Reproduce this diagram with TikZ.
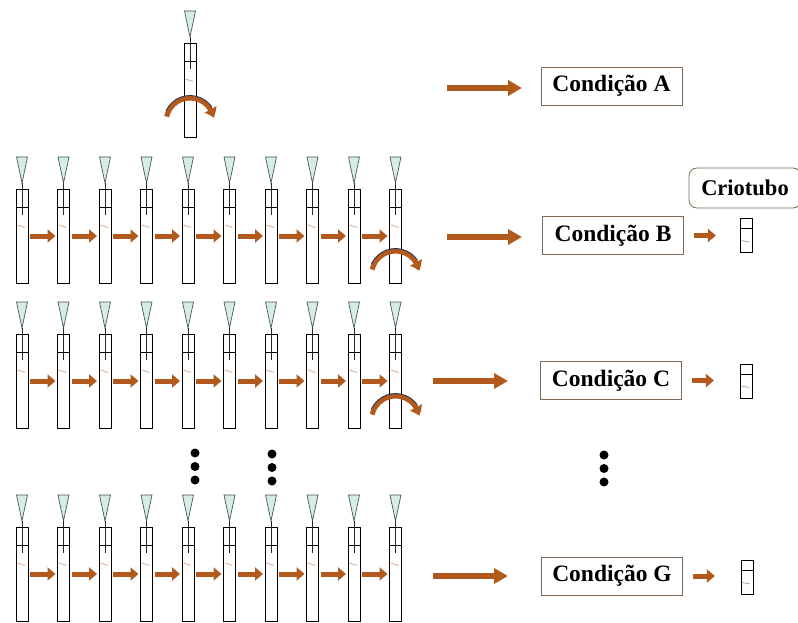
\documentclass[tikz,border=0pt]{standalone}
\usepackage{fontspec}
\setmainfont{Liberation Serif}
\usetikzlibrary{arrows.meta,calc,bending}

\definecolor{arrowbrown}{RGB}{178,90,30}
\definecolor{tipgreen}{RGB}{214,238,226}
\definecolor{tipedge}{RGB}{70,85,95}
\definecolor{liquid}{RGB}{222,175,145}
\definecolor{boxedge}{RGB}{125,105,85}
\definecolor{arcedge}{RGB}{35,45,75}

\tikzset{
  tube/.style={draw=black, line width=0.9pt, minimum width=12pt, minimum height=94pt,
    inner sep=0pt, outer sep=0pt, anchor=north west},
  cryo/.style={draw=black, line width=0.9pt, minimum width=12pt, minimum height=34pt,
    inner sep=0pt, outer sep=0pt},
  flowarrow/.style={draw=arrowbrown, line width=5pt, -{Triangle[width=13pt,length=8pt]}},
  bigarrow/.style={draw=arrowbrown, line width=6pt, -{Triangle[width=15pt,length=14pt]}},
  condbox/.style={draw=boxedge, line width=0.8pt, minimum width=141pt, minimum height=38pt,
    inner sep=0pt, font=\fontsize{23.5}{27}\selectfont\bfseries},
  labelbox/.style={condbox, rounded corners=8pt, minimum width=112pt, minimum height=40pt,
    font=\fontsize{22.5}{26}\selectfont\bfseries},
  turnarrow/.style={draw=arrowbrown, line width=5pt, -{Triangle[width=13pt,length=9pt,bend]}},
  turnedge/.style={draw=arcedge, line width=0.8pt},
  dot/.style={fill=black},
}

% pipette tube: #1 name, #2 left x, #3 top y
\newcommand{\pipettetube}[3]{%
  \node[tube] (#1) at (#2,#3) {};
  \draw[line width=0.8pt] ($(#1.north west)+(0,18)$) -- ($(#1.north east)+(0,18)$);
  \filldraw[fill=tipgreen, draw=tipedge, line width=0.7pt]
    ($(#1.north)+(-5.5,-32)$) -- ($(#1.north)+(5.5,-32)$) -- ($(#1.north)+(0,-6)$) -- cycle;
  \draw[line width=0.8pt, black!85] ($(#1.north)+(0,-6)$) -- ($(#1.north)+(0,26)$);
  \draw[liquid, line width=0.8pt] ($(#1.north west)+(1.5,36)$) -- ($(#1.north west)+(9,38.5)$);
}

% curved transfer arrow around a centre point: #1 centre
\newcommand{\turnover}[1]{%
  \draw[turnarrow] ($#1+(193:24)$) arc[start angle=193, end angle=350, radius=24];
  \draw[turnedge] ($#1+(205:26.5)$) arc[start angle=205, end angle=325, radius=26.5];
}

% cryotube: #1 name, #2 centre
\newcommand{\cryotube}[2]{%
  \node[cryo] (#1) at #2 {};
  \draw[line width=0.8pt] ($(#1.north west)+(0,10)$) -- ($(#1.north east)+(0,10)$);
  \draw[liquid!60!gray, line width=0.7pt] ($(#1.north west)+(1.5,22)$) -- ($(#1.north west)+(9,23.5)$);
}

\begin{document}
\begin{tikzpicture}[x=1pt, y=-1pt]
  \fill[white] (0,0) rectangle (798,623);
  \useasboundingbox (0,0) rectangle (798,623);

  % single starting tube
  \pipettetube{T0}{184}{43}
  \turnover{(T0.north)+(0,122-43)}

  % rows of serial tubes
  \foreach \row/\top in {B/189, C/334, G/527} {
    \foreach \i in {0,...,9} {
      \pgfmathsetmacro\xx{16+41.5*\i}
      \pipettetube{\row\i}{\xx}{\top}
    }
    \foreach \i [evaluate=\i as \j using int(\i+1)] in {0,...,8} {
      \draw[flowarrow] ([xshift=2pt]\row\i.east) -- ([xshift=-2pt]\row\j.west);
    }
  }
  \turnover{(B9.north)+(0,86)}
  \turnover{(C9.north)+(0,86)}

  % ellipsis dots
  \foreach \dx/\dy in {195/0, 272/1, 604/2} {
    \foreach \k in {0,1,2} {
      \fill[dot] (\dx,453+\dy+13.5*\k) circle[radius=4.5];
    }
  }

  % condition boxes
  \node[condbox] (condA) at (611.5,86)  {Condição A};
  \node[condbox] (condB) at (613,235.5) {Condição B};
  \node[condbox] (condC) at (611,380.5) {Condição C};
  \node[condbox] (condG) at (612,576)   {Condição G};
  \node[labelbox] (crio) at (745,188) {Criotubo};

  % arrows into the condition boxes
  \coordinate (sA) at (447,88);
  \coordinate (sB) at (447,237);
  \coordinate (sC) at (433,381);
  \coordinate (sG) at (433,576);
  \draw[bigarrow] (sA) -- (sA -| 522,0);
  \draw[bigarrow] (sB) -- (sB -| 522,0);
  \draw[bigarrow] (sC) -- (sC -| 508,0);
  \draw[bigarrow] (sG) -- (sG -| 508,0);

  % cryotubes
  \cryotube{cB}{(746,235.5)}
  \cryotube{cC}{(746,381)}
  \cryotube{cG}{(747,577.5)}
  \foreach \r in {B,C,G} {
    \draw[flowarrow] ([xshift=10pt]cond\r.east) -- ++(22,0);
  }
\end{tikzpicture}
\end{document}
